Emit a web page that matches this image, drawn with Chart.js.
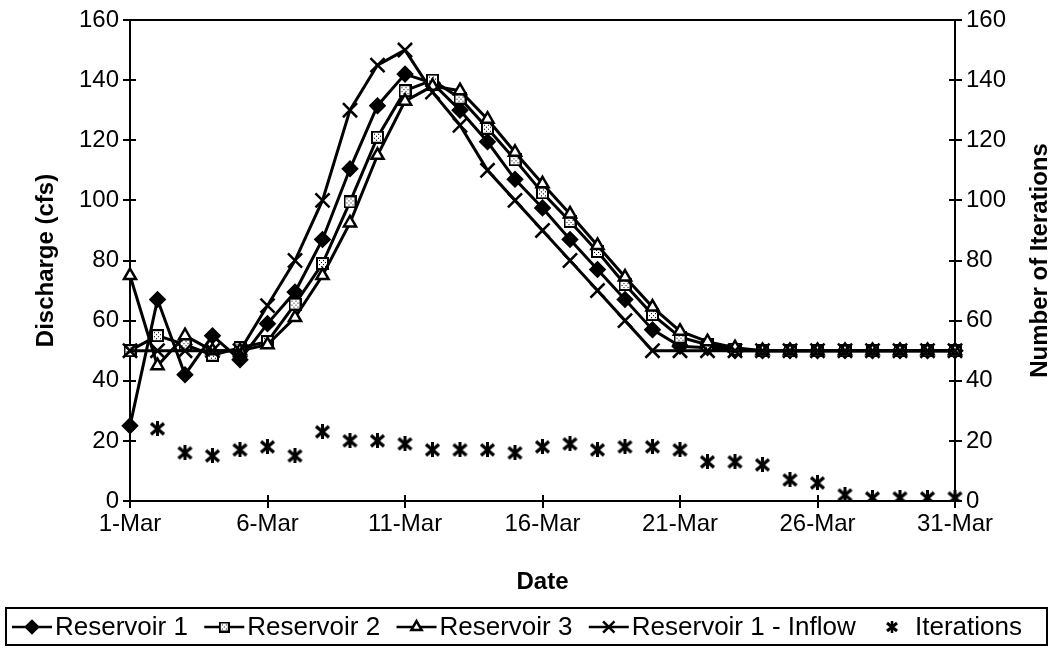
<!DOCTYPE html>
<html>
<head>
<meta charset="utf-8">
<script src="https://cdn.jsdelivr.net/npm/chart.js@4.4.0/dist/chart.umd.min.js"></script>
<style>
  html, body { margin: 0; padding: 0; background: #fff; }
  #zone { width: 1054px; height: 649px; }
</style>
</head>
<body>
<div id="zone"><canvas id="graphe" width="1054" height="649"></canvas></div>
<script>
// ==========================================
//  DONNÉES
// ==========================================
const dates = ['1-Mar','2-Mar','3-Mar','4-Mar','5-Mar','6-Mar','7-Mar','8-Mar','9-Mar','10-Mar',
  '11-Mar','12-Mar','13-Mar','14-Mar','15-Mar','16-Mar','17-Mar','18-Mar','19-Mar','20-Mar',
  '21-Mar','22-Mar','23-Mar','24-Mar','25-Mar','26-Mar','27-Mar','28-Mar','29-Mar','30-Mar','31-Mar'];
const xTickLabels = ['1-Mar','6-Mar','11-Mar','16-Mar','21-Mar','26-Mar','31-Mar'];
const yTicks = [0, 20, 40, 60, 80, 100, 120, 140, 160];

const reservoir1 = [25, 67, 42, 55, 47, 59, 69.5, 87, 110.5, 131.5, 142, 139, 130, 119.5, 107, 97.5,
  87, 77, 67, 57, 51.5, 51, 50, 50, 50, 50, 50, 50, 50, 50, 50];
const reservoir2 = [50, 55, 52, 48.5, 51, 53, 65.5, 79, 99.5, 121, 136.5, 140, 134, 124, 113.5, 102.5,
  93, 83, 72, 62, 54.5, 52, 50.5, 50, 50, 50, 50, 50, 50, 50, 50];
const reservoir3 = [75, 45, 55, 50, 50, 52, 61, 75, 92.5, 115, 133, 138, 136.5, 127, 116, 105.5,
  95.5, 85, 74.5, 64.5, 56.5, 53, 51, 50, 50, 50, 50, 50, 50, 50, 50];
const inflow = [50, 50, 50, 50, 50, 65, 80, 100, 130, 145, 150, 136, 125, 110, 100, 90,
  80, 70, 60, 50, 50, 50, 50, 50, 50, 50, 50, 50, 50, 50, 50];
const iterations = [null, 24, 16, 15, 17, 18, 15, 23, 20, 20, 19, 17, 17, 17, 16, 18,
  19, 17, 18, 18, 17, 13, 13, 12, 7, 6, 2, 1, 1, 1, 1];

const POLICE = "'Liberation Sans', Arial, sans-serif";

// ==========================================
//  MARQUEURS PERSONNALISÉS
// ==========================================
// carré noir à fond pointillé
function marqueurCarre(taille) {
  const c = document.createElement('canvas');
  c.width = taille; c.height = taille;
  const g = c.getContext('2d');
  g.fillStyle = '#000';
  g.fillRect(0, 0, taille, taille);
  g.fillStyle = '#fff';
  g.fillRect(2, 2, taille - 4, taille - 4);
  g.fillStyle = '#000';
  for (let i = 0; i < taille - 4; i++) {
    for (let j = 0; j < taille - 4; j++) {
      if (i % 2 === 1 && j % 2 === 1 && (i + j) % 4 === 2) g.fillRect(2 + i, 2 + j, 1, 1);
    }
  }
  return c;
}

// astérisque (X + barre verticale) pour les itérations
function marqueurAsterisque(l, h, ep) {
  const c = document.createElement('canvas');
  c.width = l; c.height = h;
  const g = c.getContext('2d');
  g.strokeStyle = '#000';
  g.lineCap = 'butt';
  g.lineWidth = ep;
  g.beginPath();
  g.moveTo(2, 2); g.lineTo(l - 2, h - 2);
  g.moveTo(l - 2, 2); g.lineTo(2, h - 2);
  g.stroke();
  g.lineWidth = ep - 0.5;
  g.beginPath();
  g.moveTo(l / 2, 0); g.lineTo(l / 2, h);
  g.stroke();
  return c;
}

const styleCarre = marqueurCarre(13);
const styleCarreLeg = marqueurCarre(11);
const styleAsterisque = marqueurAsterisque(17, 15, 3.5);
const styleAsterisqueLeg = marqueurAsterisque(14, 12, 3);

// ==========================================
//  SÉRIES
// ==========================================
const series = [
  { label: 'Reservoir 1', data: reservoir1, pointStyle: 'rectRot', pointRadius: 7,
    pointBackgroundColor: '#000', order: 5, leg: { style: 'rectRot', r: 6 } },
  { label: 'Reservoir 2', data: reservoir2, pointStyle: styleCarre, pointRadius: 6,
    pointBackgroundColor: '#000', order: 4, leg: { style: styleCarreLeg, r: 5 } },
  { label: 'Reservoir 3', data: reservoir3, pointStyle: 'triangle', pointRadius: 7,
    pointBackgroundColor: '#fff', order: 3, leg: { style: 'triangle', r: 6 } },
  { label: 'Reservoir 1 - Inflow', data: inflow, pointStyle: 'crossRot', pointRadius: 10,
    pointBackgroundColor: '#000', order: 2, leg: { style: 'crossRot', r: 8 } },
];

const datasets = series.map(s => ({
  label: s.label,
  data: s.data,
  yAxisID: 'y',
  borderColor: '#000',
  borderWidth: 3,
  tension: 0,
  pointStyle: s.pointStyle,
  pointRadius: s.pointRadius,
  pointHoverRadius: s.pointRadius,
  pointBackgroundColor: s.pointBackgroundColor,
  pointBorderColor: '#000',
  pointBorderWidth: 2.5,
  order: s.order,
  leg: s.leg
}));

datasets.push({
  label: 'Iterations',
  data: iterations,
  yAxisID: 'y2',
  showLine: false,
  borderColor: '#000',
  pointStyle: styleAsterisque,
  pointRadius: 8,
  pointBackgroundColor: '#000',
  pointBorderColor: '#000',
  order: 1,
  leg: { style: styleAsterisqueLeg, r: 6 }
});

// ==========================================
//  PLUGINS : cadre, graduations, titre droit, légende
// ==========================================
const cadreEtLegende = {
  id: 'cadreEtLegende',
  afterDraw(chart) {
    const { ctx, chartArea } = chart;
    const { left, right, top, bottom } = chartArea;
    ctx.save();

    // ligne du haut du cadre
    ctx.strokeStyle = '#000';
    ctx.lineWidth = 2;
    ctx.beginPath();
    ctx.moveTo(left, top);
    ctx.lineTo(right, top);

    // partie intérieure des graduations (elles traversent l'axe)
    const sy = chart.scales.y;
    yTicks.forEach(v => {
      const py = Math.round(sy.getPixelForValue(v));
      ctx.moveTo(left, py); ctx.lineTo(left + 6, py);
      ctx.moveTo(right, py); ctx.lineTo(right - 6, py);
    });
    const sx = chart.scales.x;
    xTickLabels.forEach(lab => {
      const px = Math.round(sx.getPixelForValue(dates.indexOf(lab)));
      ctx.moveTo(px, bottom); ctx.lineTo(px, bottom - 6);
    });
    ctx.stroke();

    // titre de l'axe de droite
    ctx.fillStyle = '#000';
    ctx.font = 'bold 24px ' + POLICE;
    ctx.textAlign = 'center';
    ctx.textBaseline = 'middle';
    ctx.translate(1040, (top + bottom) / 2);
    ctx.rotate(-Math.PI / 2);
    ctx.fillText('Number of Iterations', 0, 0);
    ctx.restore();

    // légende encadrée
    ctx.save();
    ctx.strokeStyle = '#000';
    ctx.lineWidth = 2;
    ctx.strokeRect(6, 608, 1041, 37);

    const yLeg = 627;
    const largeurSymbole = 40;
    ctx.font = '26px ' + POLICE;
    ctx.textBaseline = 'middle';
    ctx.textAlign = 'left';
    const largeursTexte = chart.data.datasets.map(ds => ctx.measureText(ds.label).width);
    const total = largeursTexte.reduce((a, b) => a + b, 0) + 5 * (largeurSymbole + 3);
    const ecart = (1010 - total) / 4;
    let x = 12;
    chart.data.datasets.forEach((ds, i) => {
      if (ds.showLine !== false) {
        ctx.strokeStyle = '#000';
        ctx.lineWidth = 2.5;
        ctx.beginPath();
        ctx.moveTo(x, yLeg);
        ctx.lineTo(x + largeurSymbole, yLeg);
        ctx.stroke();
      }
      ctx.fillStyle = ds.pointBackgroundColor;
      ctx.strokeStyle = '#000';
      Chart.helpers.drawPoint(ctx, {
        pointStyle: ds.leg.style,
        radius: ds.leg.r,
        borderWidth: 2,
        rotation: 0
      }, x + largeurSymbole / 2, yLeg);
      ctx.fillStyle = '#000';
      ctx.fillText(ds.label, x + largeurSymbole + 3, yLeg + 1);
      x += largeurSymbole + 3 + largeursTexte[i] + ecart;
    });
    ctx.restore();
  }
};

// ==========================================
//  GRAPHIQUE
// ==========================================
const axeCommun = {
  min: 0,
  max: 160,
  afterBuildTicks: scale => { scale.ticks = yTicks.map(v => ({ value: v })); },
  grid: { drawOnChartArea: false, color: '#000', lineWidth: 2, tickLength: 7 },
  border: { color: '#000', width: 2 },
  ticks: { color: '#000', font: { size: 24, family: POLICE }, padding: 4 }
};

new Chart(document.getElementById('graphe'), {
  type: 'line',
  data: { labels: dates, datasets },
  options: {
    responsive: false,
    devicePixelRatio: 1,
    animation: false,
    layout: { padding: { top: 20, left: 28, right: 0, bottom: 48 } },
    plugins: { legend: { display: false }, tooltip: { enabled: false } },
    scales: {
      x: {
        type: 'category',
        offset: false,
        afterFit: scale => { scale.height = 100; },
        grid: {
          drawOnChartArea: false,
          tickLength: 7,
          lineWidth: 2,
          color: c => (c.tick && xTickLabels.includes(dates[c.tick.value])) ? '#000' : 'rgba(0,0,0,0)'
        },
        border: { color: '#000', width: 2 },
        ticks: {
          autoSkip: false,
          maxRotation: 0,
          color: '#000',
          padding: 2,
          font: { size: 24, family: POLICE },
          callback: v => xTickLabels.includes(dates[v]) ? dates[v] : ''
        },
        title: { display: true, text: 'Date', color: '#000', font: { size: 24, weight: 'bold', family: POLICE } }
      },
      y: Object.assign({}, axeCommun, {
        position: 'left',
        afterFit: scale => { scale.width = 102; },
        title: { display: true, text: 'Discharge (cfs)', color: '#000', font: { size: 24, weight: 'bold', family: POLICE } }
      }),
      y2: Object.assign({}, axeCommun, {
        position: 'right',
        afterFit: scale => { scale.width = 99; }
      })
    }
  },
  plugins: [cadreEtLegende]
});
</script>
</body>
</html>
